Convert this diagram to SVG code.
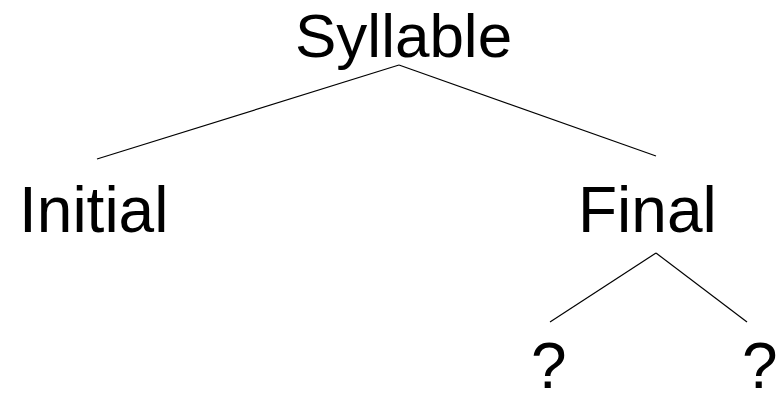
<svg xmlns="http://www.w3.org/2000/svg" width="783" height="393" viewBox="0 0 783 393">
  <style>
    .lbl { font-family: "Liberation Sans", Arial, sans-serif; font-size: 64px; fill: #000; }
    .edge { stroke: #000; stroke-width: 1.2; fill: none; }
  </style>
  <rect width="783" height="393" fill="#fff"/>
  <g id="connectors">
    <line class="edge" x1="399" y1="65" x2="97" y2="159"/>
    <line class="edge" x1="399" y1="65" x2="656" y2="156"/>
    <line class="edge" x1="656" y1="253" x2="550" y2="322"/>
    <line class="edge" x1="656" y1="253" x2="747" y2="322"/>
  </g>
  <g id="syllable"><text class="lbl" x="295" y="57" style="font-size:62px">Syllable</text></g>
  <g id="initial"><text class="lbl" x="19" y="232">Initial</text></g>
  <g id="final"><text class="lbl" x="578" y="232">Final</text></g>
  <g id="q1"><text class="lbl" x="531" y="388">?</text></g>
  <g id="q2"><text class="lbl" x="742" y="388">?</text></g>
</svg>
